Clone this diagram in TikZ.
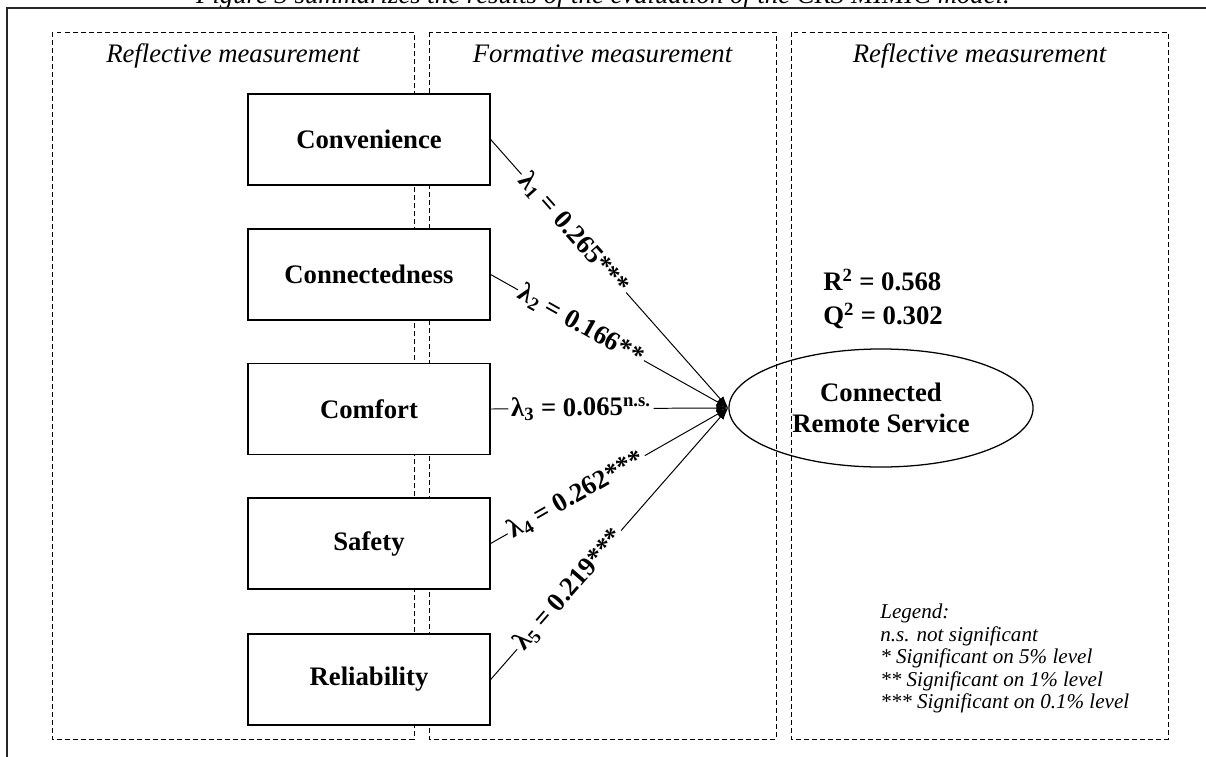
\documentclass[tikz,border=0pt]{standalone}
\usepackage{fontspec}
\setmainfont{Liberation Serif}
\usetikzlibrary{shapes.geometric,arrows.meta}

\begin{document}
\begin{tikzpicture}[x=0.025cm,y=-0.025cm,
  zone/.style={draw,dash pattern=on 0.12cm off 0.08cm,line width=.6pt},
  head/.style={anchor=base,font=\itshape\fontsize{19}{22}\selectfont},
  construct/.style={draw,line width=.9pt,minimum width=6.05cm,minimum height=2.275cm,inner sep=0pt,font=\bfseries\fontsize{19}{22}\selectfont},
  latent/.style={ellipse,draw,line width=.9pt,minimum width=7.6cm,minimum height=2.95cm,inner sep=0pt,align=center,font=\bfseries\fontsize{19}{22}\selectfont},
  load/.style={-{Latex[length=0.3cm,width=0.2cm]},line width=.7pt},
  coef/.style={fill=white,sloped,inner sep=2pt,font=\bfseries\fontsize{19}{22}\selectfont},
  quality/.style={anchor=base west,inner sep=0pt,font=\bfseries\fontsize{19}{22}\selectfont}]
  \clip (0,0) rectangle (1206,757);
  \node[head] (caption) at (603,3) {Figure 3 summarizes the results of the evaluation of the CRS MIMIC model.};
  \path[draw,line width=1.4pt,black!85] (7,790) |- (1240,8);

  % measurement zones
  \path[zone] (52,32) rectangle (414,739);
  \path[zone] (429,32) rectangle (776,739);
  \path[zone] (791,32) rectangle (1168,739);
  \node[head] (zoneA) at (233,62) {Reflective measurement};
  \node[head] (zoneB) at (602.5,62) {Formative measurement};
  \node[head] (zoneC) at (979.5,62) {Reflective measurement};

  \node[construct,fill=white] (conv) at (369,139.5) {Convenience};
  \node[construct,fill=white] (conn) at (369,274.5) {Connectedness};
  \node[construct,fill=white] (comf) at (369,409) {Comfort};
  \node[construct,fill=white] (safe) at (369,543.5) {Safety};
  \node[construct,fill=white] (reli) at (369,679.5) {Reliability};

  \node[latent] (crs) at (881,408) {Connected\\Remote Service};
  \node[quality] (r2) at (823,290) {R\textsuperscript{2} = 0.568};
  \node[quality] (q2) at (823,324) {Q\textsuperscript{2} = 0.302};

  \draw[load] (conv.east) -- node[coef,pos=.35] (l1) {λ\textsubscript{1} = 0.265***} (crs.west);
  \draw[load] (conn.east) -- node[coef,pos=.38] (l2) {λ\textsubscript{2} = 0.166**} (crs.west);
  \draw[load] (comf.east) -- node[coef,pos=.38] (l3) {λ\textsubscript{3} = 0.065\textsuperscript{n.s.}} (crs.west);
  \draw[load] (safe.east) -- node[coef,pos=.36] (l4) {λ\textsubscript{4} = 0.262***} (crs.west);
  \draw[load] (reli.east) -- node[coef,pos=.33] (l5) {λ\textsubscript{5} = 0.219***} (crs.west);

  \node[anchor=north west,inner sep=0pt,align=left,font=\itshape\fontsize{15}{16}\selectfont] (legend) at (880,604)
    {Legend:\\[0pt]n.s. not significant\\[0pt]* Significant on 5\% level\\[0pt]** Significant on 1\% level\\[0pt]*** Significant on 0.1\% level};
\end{tikzpicture}
\end{document}
